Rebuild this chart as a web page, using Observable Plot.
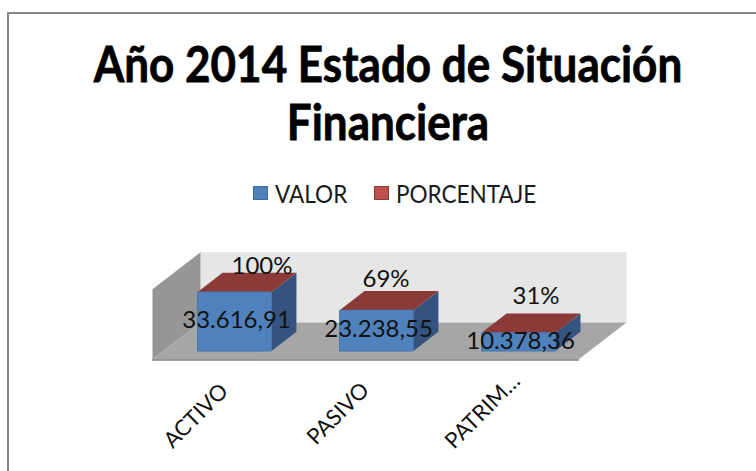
<!DOCTYPE html>
<html><head><meta charset="utf-8">
<script src="https://cdn.jsdelivr.net/npm/d3@7"></script>
<script src="https://cdn.jsdelivr.net/npm/@observablehq/plot@0.6"></script>
<style>
html,body{margin:0;padding:0;background:#fff;width:756px;height:471px;overflow:hidden}
#frame{position:absolute;left:7px;top:12px;width:800px;height:500px;border:2px solid #868686;box-sizing:border-box}
.t{position:absolute;left:0;width:776px;text-align:center;font-family:Lato;font-weight:700;font-size:44px;color:#000;white-space:nowrap;transform:scaleY(1.12);-webkit-text-stroke:0.7px #000}
.lg{position:absolute;font-family:Lato;font-size:23px;color:#1a1a1a;line-height:26px;white-space:nowrap;transform-origin:left center;transform:scale(0.98,1.06)}
.sw{position:absolute;width:15px;height:14px;box-sizing:border-box}
#chart{position:absolute;left:0;top:225px}
#chart svg{display:block}
</style></head><body>
<div id="frame"></div>
<div class="t" style="top:37px;">Año 2014 Estado de Situación</div>
<div class="t" style="top:95px;left:0;">Financiera</div>
<div class="sw" style="left:253px;top:186px;background:#4F81BD;border:1px solid #3d6a9e"></div>
<div class="lg" style="left:275px;top:180px">VALOR</div>
<div class="sw" style="left:374px;top:186px;background:#C0504D;border:1px solid #8e3a38"></div>
<div class="lg" style="left:396px;top:180px">PORCENTAJE</div>
<div id="chart"></div>
<script>
const categories = ["ACTIVO", "PASIVO", "PATRIM…"];
const valores = [33616.91, 23238.55, 10378.36];
const porcentajes = [1, 0.69, 0.31];
const axisMax = 40000;

const fmt = d3.formatLocale({decimal: ",", thousands: ".", grouping: [3], currency: ["", ""]}).format(",.2f");
const pct = d3.format(".0%");

// oblique 3-D projection expressed in data units
const skewX = 48 / 142, skewY = 21083;
const px = (cat, depth) => cat + depth * skewX;
const py = (v, depth) => v + depth * skewY;
const face = (fill, pts) => Plot.line(pts.map(([c, v, d]) => ({x: px(c, d), y: py(v, d)})),
  {x: "x", y: "y", fill, stroke: "none", curve: "linear"});

const n = categories.length;
const d0 = 0.23, d1 = 0.75, halfW = 0.26;

const bars = categories.flatMap((c, i) => {
  const a = i + 0.5 - halfW, b = i + 0.5 + halfW, v = valores[i], t = v + porcentajes[i];
  return [
    face("#34537F", [[b, 0, d0], [b, 0, d1], [b, t, d1], [b, t, d0]]),
    face("#8C3A38", [[a, t, d0], [b, t, d0], [b, t, d1], [a, t, d1]]),
    Plot.line([[a, 0], [b, 0], [b, v], [a, v], [a, 0]].map(([k, w]) => ({x: px(k, d0), y: py(w, d0)})),
      {x: "x", y: "y", fill: "#4F81BD", stroke: "#4576AE", strokeWidth: 1, curve: "linear"})
  ];
});

const pctNudge = [15, -3, 5];
const pctLift = [6, 12, 17];
const tickNudge = [[1, 28], [0, 27], [9, 18]];
const labelFont = {fontFamily: "Lato", fontSize: 24, fill: "#111"};

const plot = Plot.plot({
  width: 756, height: 246,
  marginTop: 0, marginBottom: 0, marginLeft: 0, marginRight: 0,
  x: {domain: [-152 / 142, 604 / 142], axis: null},
  y: {domain: [-112 / 0.001755, 134 / 0.001755], axis: null},
  marks: [
    face("#E6E6E6", [[0, 0, 1], [n, 0, 1], [n, axisMax, 1], [0, axisMax, 1]]),
    face("#969696", [[0, 0, 0], [0, 0, 1], [0, axisMax, 1], [0, axisMax, 0]]),
    face("#A6A6A6", [[0, 0, 0], [n, 0, 0], [n, 0, 1], [0, 0, 1]]),
    Plot.line([[0, 0], [n, 0]], {x: d => d[0], y: d => d[1], stroke: "#808080", strokeWidth: 1.5, dy: 0.5}),
    ...bars,
    ...categories.map((c, i) => Plot.text([c], {
      x: () => i + 0.5, y: () => 0, text: d => d,
      rotate: -45, textAnchor: "end", lineAnchor: "middle",
      dx: tickNudge[i][0], dy: tickNudge[i][1], fontFamily: "Lato", fontSize: 22, fill: "#111"
    })),
    Plot.text(valores, {
      x: (d, i) => px(i + 0.5, d0), y: (d, i) => py(d / 2, d0), text: d => fmt(d),
      dx: 2, dy: -1, ...labelFont, textAnchor: "middle", lineAnchor: "middle"
    }),
    ...porcentajes.map((p, i) => Plot.text([p], {
      x: () => px(i + 0.5, (d0 + d1) / 2), y: () => py(valores[i], d1), text: d => pct(d),
      dx: pctNudge[i], dy: -pctLift[i], ...labelFont,
      textAnchor: "middle", lineAnchor: "middle"
    }))
  ]
});
document.getElementById("chart").appendChild(plot);
</script>
</body></html>
